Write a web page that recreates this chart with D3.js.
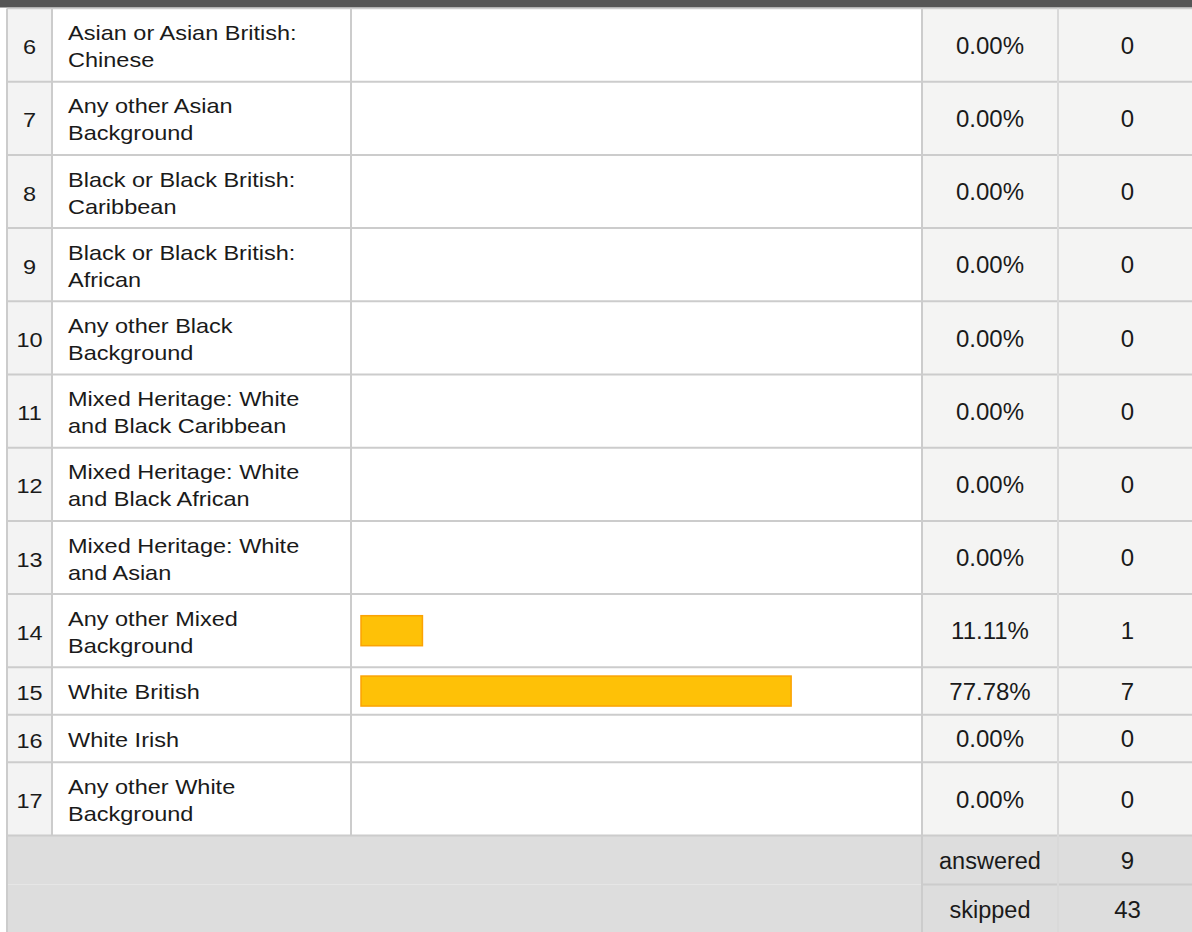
<!DOCTYPE html>
<html>
<head>
<meta charset="utf-8">
<script src="https://cdn.jsdelivr.net/npm/d3@7"></script>
<style>
  html, body { margin: 0; padding: 0; background: #fff; }
  svg { display: block; }
  text { font-family: "Liberation Sans", Arial, Helvetica, sans-serif; fill: #1a1a1a; }
</style>
</head>
<body>
<div id="chart"></div>
<script>
// ---- data ----
const rowNumbers = [6, 7, 8, 9, 10, 11, 12, 13, 14, 15, 16, 17];
const labelLines = [
  ["Asian or Asian British:", "Chinese"],
  ["Any other Asian", "Background"],
  ["Black or Black British:", "Caribbean"],
  ["Black or Black British:", "African"],
  ["Any other Black", "Background"],
  ["Mixed Heritage: White", "and Black Caribbean"],
  ["Mixed Heritage: White", "and Black African"],
  ["Mixed Heritage: White", "and Asian"],
  ["Any other Mixed", "Background"],
  ["White British"],
  ["White Irish"],
  ["Any other White", "Background"]
];
const percentValues = [0, 0, 0, 0, 0, 0, 0, 0, 11.11, 77.78, 0, 0];
const countValues = [0, 0, 0, 0, 0, 0, 0, 0, 1, 7, 0, 0];
const summaryLabels = ["answered", "skipped"];
const summaryValues = [9, 43];

// ---- layout ----
const W = 1192, H = 932;
const colX = { left: 7, num: 7, label: 52, bar: 351, pct: 922, cnt: 1058, right: 1197 };
const top0 = 8.5;
const twoLineH = 73.2, oneLineH = 47.5, summaryH = 49;
const labelFont = 21, labelScaleX = 1.12;

const rows = rowNumbers.map((n, i) => ({
  n, lines: labelLines[i], pct: percentValues[i], cnt: countValues[i]
}));
let yAcc = top0;
rows.forEach(r => { r.y0 = yAcc; r.h = r.lines.length > 1 ? twoLineH : oneLineH; yAcc += r.h; r.y1 = yAcc; r.cy = (r.y0 + r.y1) / 2; });
const tableBottom = yAcc;
const sums = summaryLabels.map((l, i) => {
  const y0 = tableBottom + i * summaryH;
  return { label: l, value: summaryValues[i], y0, y1: y0 + summaryH, cy: y0 + summaryH / 2 };
});

const svg = d3.select("#chart").append("svg").attr("width", W).attr("height", H);

// scale for bars
const x = d3.scaleLinear().domain([0, 100]).range([colX.bar + 10, colX.bar + 10 + 553]);

// top dark header strip
svg.append("rect").attr("x", 0).attr("y", 0).attr("width", W).attr("height", 7.5).attr("fill", "#555555");

// cell backgrounds
const g = svg.append("g");
rows.forEach(r => {
  g.append("rect").attr("x", colX.num).attr("y", r.y0).attr("width", colX.label - colX.num).attr("height", r.h).attr("fill", "#f3f3f3");
  g.append("rect").attr("x", colX.label).attr("y", r.y0).attr("width", colX.pct - colX.label).attr("height", r.h).attr("fill", "#ffffff");
  g.append("rect").attr("x", colX.pct).attr("y", r.y0).attr("width", colX.right - colX.pct).attr("height", r.h).attr("fill", "#f4f4f3");
});
sums.forEach(s => {
  g.append("rect").attr("x", colX.left).attr("y", s.y0).attr("width", colX.right - colX.left).attr("height", summaryH).attr("fill", "#dddddd");
});

// bars
g.selectAll("rect.bar").data(rows.filter(r => r.pct > 0)).join("rect")
  .attr("class", "bar")
  .attr("x", x(0))
  .attr("y", d => d.cy - 15)
  .attr("width", d => x(d.pct) - x(0))
  .attr("height", 30)
  .attr("fill", "#fec107")
  .attr("stroke", "#fba304")
  .attr("stroke-width", 1.5);

// grid lines
const lineColor = "#cccccc";
const lines = svg.append("g").attr("stroke", lineColor).attr("stroke-width", 2).attr("fill", "none");
lines.append("line").attr("x1", colX.left).attr("x2", W).attr("y1", top0).attr("y2", top0).attr("stroke-width", 1.5);
rows.forEach(r => {
  lines.append("line").attr("x1", colX.left).attr("x2", W).attr("y1", r.y1).attr("y2", r.y1);
});
lines.append("line").attr("x1", colX.pct).attr("x2", W).attr("y1", sums[0].y1).attr("y2", sums[0].y1);
lines.append("line").attr("x1", colX.left).attr("x2", colX.left).attr("y1", top0).attr("y2", H);
lines.append("line").attr("x1", colX.label).attr("x2", colX.label).attr("y1", top0).attr("y2", tableBottom);
lines.append("line").attr("x1", colX.bar).attr("x2", colX.bar).attr("y1", top0).attr("y2", tableBottom);
lines.append("line").attr("x1", colX.pct).attr("x2", colX.pct).attr("y1", top0).attr("y2", H);
lines.append("line").attr("x1", colX.cnt).attr("x2", colX.cnt).attr("y1", top0).attr("y2", H).attr("stroke", "#d9d9d9");

// texts
const t = svg.append("g");
rows.forEach(r => {
  const numX = (colX.num + colX.label) / 2;
  t.append("text")
    .attr("transform", `translate(${numX},${r.cy + 9}) scale(${labelScaleX},1)`)
    .attr("text-anchor", "middle").attr("font-size", labelFont).text(r.n);
  const baseY = r.lines.length > 1 ? r.cy - 5 : r.cy + 8;
  r.lines.forEach((ln, j) => {
    t.append("text")
      .attr("transform", `translate(${colX.label + 16},${baseY + j * 27}) scale(${labelScaleX},1)`)
      .attr("font-size", labelFont).text(ln);
  });
  t.append("text").attr("x", (colX.pct + colX.cnt) / 2).attr("y", r.cy + 8.6)
    .attr("text-anchor", "middle").attr("font-size", 24).text(r.pct.toFixed(2) + "%");
  t.append("text").attr("x", (colX.cnt + colX.right) / 2).attr("y", r.cy + 8.6)
    .attr("text-anchor", "middle").attr("font-size", 24).text(r.cnt);
});
sums.forEach(s => {
  t.append("text").attr("x", (colX.pct + colX.cnt) / 2).attr("y", s.cy + 8.6)
    .attr("text-anchor", "middle").attr("font-size", 23.5).text(s.label);
  t.append("text").attr("x", (colX.cnt + colX.right) / 2).attr("y", s.cy + 8.6)
    .attr("text-anchor", "middle").attr("font-size", 24).text(s.value);
});
</script>
</body>
</html>
